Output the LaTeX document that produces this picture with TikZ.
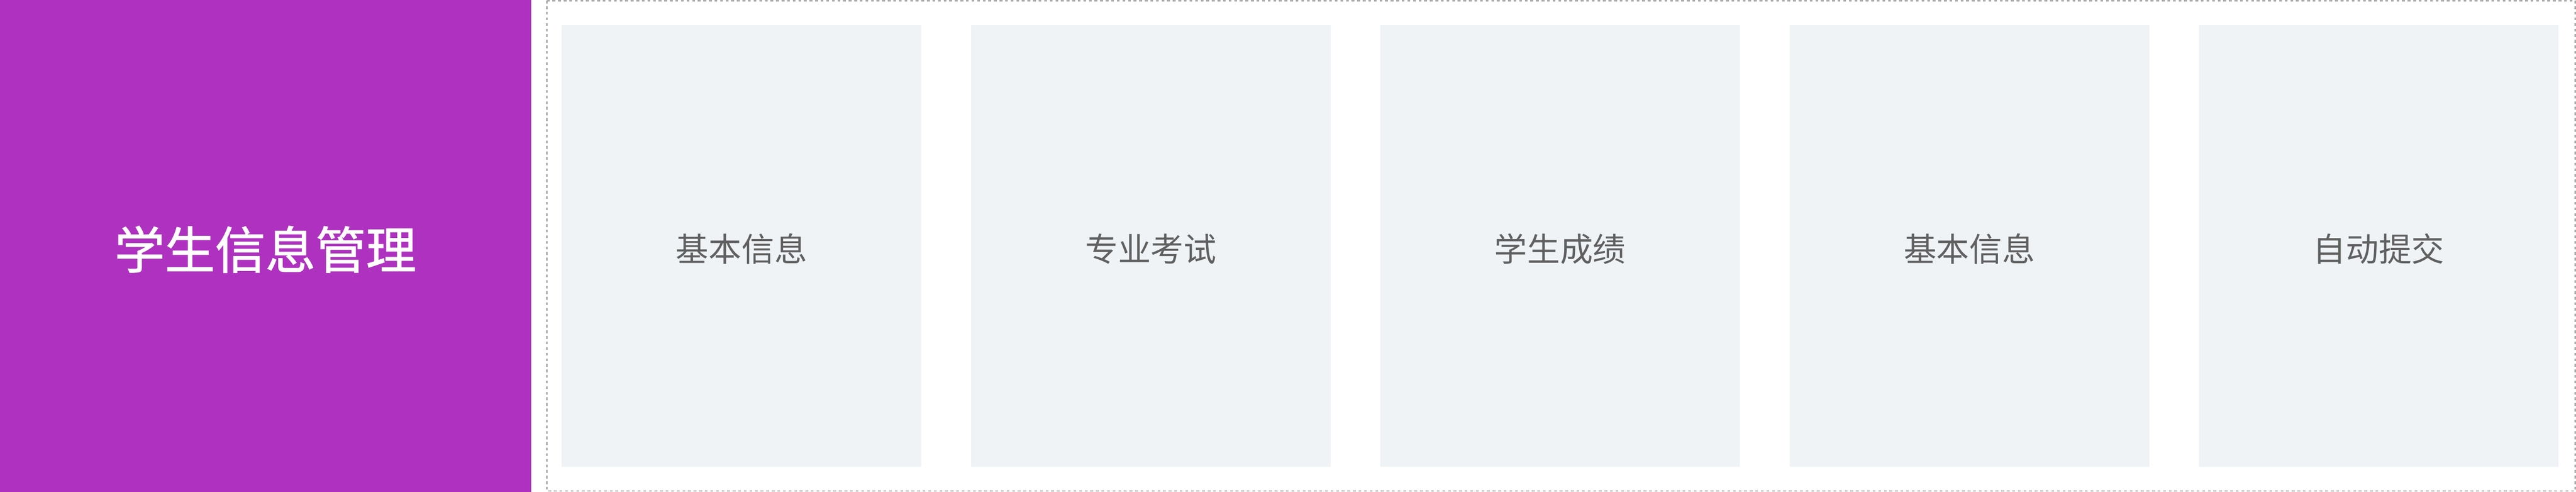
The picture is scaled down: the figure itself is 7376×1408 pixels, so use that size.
\documentclass[tikz,border=0pt]{standalone}
\usepackage{fontspec}
\newfontfamily\cjk{Noto Sans CJK SC}
\newfontfamily\cjkheavy[FakeBold=1.2]{Noto Sans CJK SC}
\definecolor{sidepurple}{HTML}{AE32BF}
\definecolor{cardfill}{HTML}{EFF3F6}
\definecolor{cardtext}{HTML}{606060}
\definecolor{framegrey}{HTML}{AAAAAA}
\tikzset{
  card/.style={fill=cardfill, draw=none, minimum width=1030pt, minimum height=1264pt, inner sep=0pt, anchor=north west},
  cardlabel/.style={text=cardtext, font=\cjk\fontsize{94}{110}\selectfont},
  sidebox/.style={fill=sidepurple, draw=none, minimum width=1520pt, minimum height=1408pt, inner sep=0pt, anchor=north west},
  sidelabel/.style={text=white, font=\cjkheavy\fontsize{144}{170}\selectfont},
  frame/.style={draw=framegrey, line width=4pt, dash pattern=on 8pt off 8pt}
}
\begin{document}
\begin{tikzpicture}[x=1pt,y=-1pt]
\useasboundingbox (0,0) rectangle (7376,1408);
\fill[white] (0,0) rectangle (7376,1408);
\node[sidebox] (side) at (0,0) {};
\node[sidelabel] (sidet) at (760,714) {学生信息管理};
\draw[frame] (1566,2) rectangle (7374,1406);
\node[card] (c1) at (1608,72) {};
\node[card] (c2) at (2780,72) {};
\node[card] (c3) at (3952,72) {};
\node[card] (c4) at (5124,72) {};
\node[card] (c5) at (6296,72) {};
\node[cardlabel] at ([yshift=-8pt]c1.center) {基本信息};
\node[cardlabel] at ([yshift=-8pt]c2.center) {专业考试};
\node[cardlabel] at ([yshift=-8pt]c3.center) {学生成绩};
\node[cardlabel] at ([yshift=-8pt]c4.center) {基本信息};
\node[cardlabel] at ([yshift=-8pt]c5.center) {自动提交};
\end{tikzpicture}
\end{document}
